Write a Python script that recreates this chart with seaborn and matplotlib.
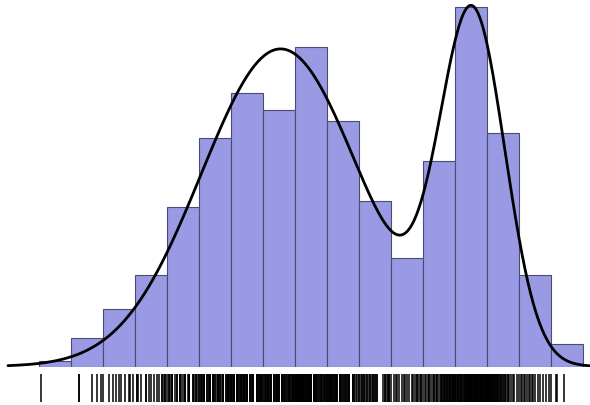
import numpy as np
import pandas as pd
import matplotlib
matplotlib.use("Agg")
import matplotlib.pyplot as plt
import seaborn as sns

# Observations, grouped by unit-wide bin; each entry is the position inside
# its bin in twentieths (bin k covers [k, k+1)), repeats are tied values.
bin_00 = [1]
bin_01 = [5, 5, 13, 16, 19]
bin_02 = [0, 4, 6, 8, 10, 11, 14, 16, 17, 19]
bin_03 = [1, 1, 2, 4, 7, 7, 9, 10, 12, 14, 15, 17, 17, 18, 19, 19]
bin_04 = [0, 1, 1, 2, 3, 3, 3, 5, 6, 6, 8, 8, 8, 9, 10, 11, 11, 11, 13, 14,
          14, 14, 16, 16, 17, 18, 18, 19]
bin_05 = [0, 0, 1, 1, 2, 2, 3, 3, 3, 3, 5, 5, 6, 6, 7, 7, 7, 9, 9, 9, 10, 10,
          11, 12, 12, 12, 13, 13, 14, 15, 15, 15, 15, 17, 17, 18, 18, 18, 19,
          19]
bin_06 = [0, 0, 0, 1, 1, 2, 2, 2, 2, 4, 4, 4, 5, 5, 6, 6, 6, 7, 7, 8, 8, 8, 9,
          9, 10, 10, 10, 10, 12, 12, 12, 13, 13, 14, 14, 14, 14, 16, 16, 16,
          17, 17, 18, 18, 18, 19, 19, 19]
bin_07 = [0, 0, 1, 1, 2, 2, 3, 3, 3, 4, 4, 5, 5, 5, 7, 7, 7, 8, 8, 9, 9, 9, 10,
          10, 10, 12, 12, 12, 12, 13, 13, 14, 14, 15, 15, 16, 16, 16, 17, 17,
          18, 18, 19, 19, 19]
bin_08 = [0, 0, 0, 1, 1, 1, 2, 2, 2, 2, 3, 3, 3, 4, 4, 4, 5, 5, 5, 5, 6, 6, 6,
          7, 7, 7, 8, 8, 8, 9, 9, 9, 10, 10, 10, 10, 12, 12, 12, 12, 13, 13,
          13, 14, 14, 15, 15, 16, 16, 16, 17, 17, 18, 18, 19, 19]
bin_09 = [0, 0, 0, 1, 1, 1, 2, 2, 2, 3, 3, 3, 4, 4, 5, 5, 5, 6, 6, 6, 8, 8, 8,
          9, 9, 10, 10, 11, 11, 12, 12, 13, 13, 14, 14, 14, 16, 16, 16, 17,
          17, 18, 19]
bin_10 = [0, 0, 1, 2, 2, 3, 3, 4, 5, 5, 6, 7, 7, 8, 9, 9, 10, 10, 11, 11, 15,
          16, 16, 17, 18, 18, 19, 19, 19]
bin_11 = [0, 2, 3, 4, 5, 7, 8, 9, 10, 11, 13, 14, 15, 16, 16, 17, 18, 19, 19]
bin_12 = [0, 1, 2, 3, 4, 4, 5, 6, 7, 7, 8, 9, 9, 10, 11, 11, 12, 12, 13, 13,
          14, 14, 15, 15, 15, 16, 16, 17, 17, 17, 18, 18, 19, 19, 19, 19]
bin_13 = [0, 0, 0, 1, 1, 2, 2, 2, 3, 3, 4, 4, 4, 5, 5, 6, 6, 6, 7, 7, 7, 8, 8,
          8, 9, 9, 9, 9, 10, 10, 10, 10, 11, 11, 11, 12, 12, 12, 12, 13, 13,
          13, 14, 14, 14, 14, 15, 15, 15, 16, 16, 16, 16, 17, 17, 17, 18, 18,
          18, 19, 19, 19, 19]
bin_14 = [0, 0, 0, 0, 1, 1, 1, 1, 2, 2, 2, 3, 3, 3, 4, 4, 4, 5, 5, 5, 6, 6, 6,
          7, 7, 8, 8, 9, 9, 10, 10, 11, 11, 12, 13, 13, 14, 15, 16, 17, 19]
bin_15 = [0, 1, 2, 3, 4, 5, 6, 7, 8, 9, 10, 12, 13, 15, 17, 19]
bin_16 = [0, 3, 4, 8]

bins_in_order = [bin_00, bin_01, bin_02, bin_03, bin_04, bin_05, bin_06,
                 bin_07, bin_08, bin_09, bin_10, bin_11, bin_12, bin_13,
                 bin_14, bin_15, bin_16]
bin_edges = np.arange(0, len(bins_in_order) + 1)

values = np.array([k + pos / 20.0
                   for k, positions in enumerate(bins_in_order)
                   for pos in positions])
df = pd.DataFrame({"x": values})

# Two-component normal mixture overlaid on the counts
mix_means = [7.55, 13.55]
mix_sds = [2.48, 1.02]
mix_weights = [0.692, 0.308]

W, H = 590, 406
fig = plt.figure(figsize=(W / 100, H / 100), dpi=100)
fig.patch.set_facecolor("white")

x_lo = -39 / 32
x_hi = (W - 39) / 32

base_px = 367.5
ax = fig.add_axes([0, (H - base_px) / H, 1, base_px / H])
sns.histplot(data=df, x="x", bins=bin_edges, stat="count",
             facecolor="#9a9ae4", edgecolor="#4b4b78", linewidth=0.8,
             alpha=1, ax=ax)

grid = np.linspace(-0.97, x_hi + 0.1, 800)
binwidth = bin_edges[1] - bin_edges[0]
density = np.zeros_like(grid)
for m, s, w in zip(mix_means, mix_sds, mix_weights):
    density += w * np.exp(-0.5 * ((grid - m) / s) ** 2) / (s * np.sqrt(2 * np.pi))
curve = pd.DataFrame({"x": grid, "count": density * len(values) * binwidth})
sns.lineplot(data=curve, x="x", y="count", color="black", linewidth=2.0,
             ax=ax)
ax.lines[-1].set_solid_capstyle("round")

ax.set_xlim(x_lo, x_hi)
ax.set_ylim(0, base_px / (359.5 / 63))
ax.set_axis_off()

rug_ax = fig.add_axes([0, 3 / H, 1, 28 / H])
sns.rugplot(data=df, x="x", height=1.0, color="black", linewidth=1.1,
            expand_margins=False, ax=rug_ax)
rug_ax.set_xlim(x_lo, x_hi)
rug_ax.set_ylim(0, 1)
rug_ax.set_axis_off()

fig.savefig("out.png", dpi=100, facecolor="white")
